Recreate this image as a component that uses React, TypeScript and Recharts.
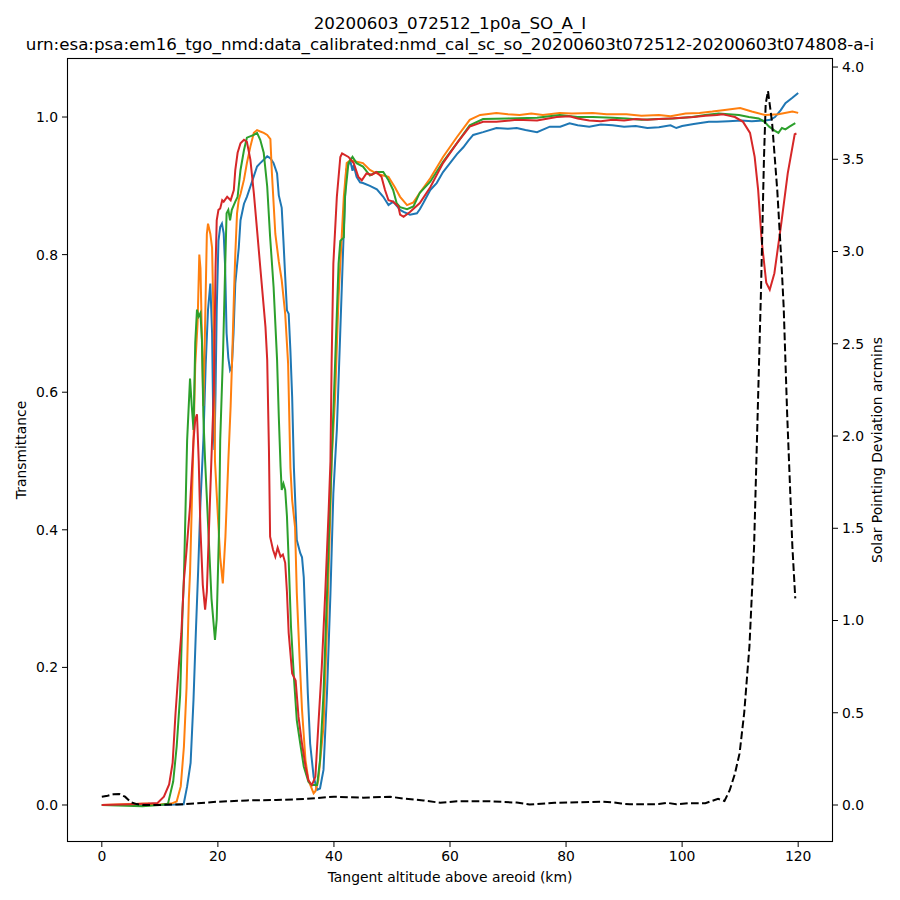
import { ComposedChart, Line, XAxis, YAxis } from "recharts"

// [altitude km, value] pairs
const blueSeries: [number, number][] = [
  [0, 0], [10, 0], [14.1, 0.001], [14.7, 0.027], [15.3, 0.061], [15.8, 0.153], [16.2, 0.25],
  [16.6, 0.34], [17.0, 0.44], [17.5, 0.53], [17.9, 0.64], [18.3, 0.72], [18.7, 0.758],
  [19.0, 0.686], [19.2, 0.56], [19.4, 0.516], [19.6, 0.6], [19.8, 0.72], [20.1, 0.82],
  [20.4, 0.84], [20.7, 0.845], [21.0, 0.831], [21.25, 0.782], [21.5, 0.686], [21.8, 0.65],
  [22.1, 0.632], [22.4, 0.637], [22.7, 0.686], [23.0, 0.758], [23.6, 0.81], [23.9, 0.85],
  [24.5, 0.874], [25.0, 0.884], [25.6, 0.899], [26.2, 0.914], [26.75, 0.928], [27.3, 0.933],
  [27.9, 0.938], [28.5, 0.943], [29.05, 0.94], [29.6, 0.933], [30.2, 0.918], [30.5, 0.886],
  [31.0, 0.868], [31.3, 0.82], [31.6, 0.768], [31.9, 0.719], [32.2, 0.714], [32.5, 0.66],
  [32.8, 0.593], [33.1, 0.49], [33.6, 0.385], [34.2, 0.366], [34.5, 0.36], [34.8, 0.331],
  [35.1, 0.259], [35.5, 0.162], [35.9, 0.089], [36.5, 0.041], [37.1, 0.022], [37.6, 0.024],
  [38.2, 0.051], [38.8, 0.162], [39.4, 0.308], [39.9, 0.453], [40.2, 0.5], [40.5, 0.545],
  [41.1, 0.69], [41.7, 0.836], [42.1, 0.923], [42.8, 0.937], [43.2, 0.922], [43.4, 0.93],
  [43.9, 0.913], [44.5, 0.905], [45.0, 0.904], [46.2, 0.9], [47.4, 0.895], [48.5, 0.884],
  [49.4, 0.872], [50.2, 0.877], [50.9, 0.87], [51.4, 0.865], [52.0, 0.862], [53.1, 0.858],
  [54.3, 0.86], [54.8, 0.866], [55.4, 0.875], [56.6, 0.894], [57.7, 0.904], [58.8, 0.92],
  [60.0, 0.933], [61.2, 0.946], [62.3, 0.956], [63.2, 0.966], [64.0, 0.974], [65.7, 0.978],
  [68, 0.984], [70, 0.983], [71.5, 0.984], [73, 0.981], [75, 0.978], [77.2, 0.986],
  [79, 0.986], [80.6, 0.991], [82, 0.988], [84, 0.986], [86, 0.989], [88, 0.988], [90, 0.986],
  [92, 0.987], [94, 0.984], [96, 0.985], [98, 0.988], [99, 0.984], [100, 0.987], [102, 0.99],
  [104.6, 0.993], [106, 0.993], [108, 0.994], [110.2, 0.995], [112, 0.994], [114.3, 0.995],
  [115.2, 0.996], [116, 1.0], [117, 1.01], [117.8, 1.02], [119, 1.028], [120, 1.035],
]

const orangeSeries: [number, number][] = [
  [0, 0], [8, 0.002], [9, 0], [12, 0.002], [12.9, 0.005], [13.6, 0.027], [14.15, 0.085],
  [14.6, 0.17], [15.0, 0.3], [15.2, 0.337], [15.8, 0.531], [16.1, 0.64], [16.5, 0.7],
  [16.8, 0.8], [17.0, 0.78], [17.25, 0.68], [17.5, 0.58], [17.8, 0.7], [18.1, 0.83],
  [18.3, 0.845], [18.7, 0.83], [19.0, 0.81], [19.3, 0.686], [19.5, 0.5], [20.0, 0.42],
  [20.4, 0.36], [20.85, 0.322], [21.3, 0.39], [21.8, 0.5], [22.2, 0.58], [22.5, 0.66],
  [22.8, 0.75], [23.0, 0.8], [23.3, 0.86], [23.6, 0.88], [23.9, 0.888], [24.5, 0.909],
  [25.0, 0.933], [25.6, 0.957], [26.2, 0.977], [26.75, 0.981], [27.3, 0.979], [27.9, 0.977],
  [28.5, 0.974], [29.05, 0.968], [29.3, 0.92], [29.9, 0.83], [30.5, 0.79], [31.0, 0.763],
  [31.6, 0.714], [32.1, 0.642], [32.5, 0.49], [32.8, 0.443], [33.3, 0.404], [33.6, 0.308],
  [34.1, 0.21], [34.5, 0.138], [35.1, 0.065], [35.6, 0.036], [36.5, 0.017], [36.8, 0.02],
  [37.3, 0.036], [38.2, 0.114], [38.8, 0.259], [39.4, 0.43], [39.6, 0.5], [40.2, 0.593],
  [40.8, 0.739], [41.4, 0.836], [41.7, 0.884], [42.2, 0.933], [42.8, 0.937], [43.9, 0.935],
  [45.0, 0.933], [46.2, 0.923], [46.9, 0.92], [48.0, 0.916], [49.4, 0.913], [50.5, 0.898],
  [51.4, 0.884], [52.6, 0.872], [53.7, 0.876], [54.8, 0.89], [56.6, 0.911], [58.8, 0.942],
  [61.2, 0.971], [63.4, 0.996], [65.2, 1.003], [68, 1.006], [70, 1.004], [72, 1.003],
  [74, 1.005], [76, 1.003], [78.9, 1.006], [81, 1.005], [84.6, 1.006], [87, 1.004],
  [90.4, 1.004], [93, 1.002], [96, 1.003], [98, 1.001], [100.6, 1.005], [103, 1.006],
  [105.2, 1.008], [107, 1.01], [110, 1.013], [112, 1.008], [114.3, 1.003], [116.6, 1.004],
  [119, 1.008], [120, 1.006],
]

const greenSeries: [number, number][] = [
  [0, 0], [7, -0.002], [10, 0], [11.4, 0.002], [12.3, 0.034], [12.9, 0.085], [13.5, 0.16],
  [13.9, 0.28], [14.15, 0.33], [14.7, 0.53], [15.2, 0.62], [15.5, 0.58], [15.8, 0.545],
  [16.1, 0.672], [16.4, 0.72], [16.7, 0.71], [17.0, 0.715], [17.25, 0.676], [17.5, 0.565],
  [17.8, 0.5], [18.3, 0.41], [18.9, 0.3], [19.5, 0.24], [19.8, 0.27], [20.2, 0.4],
  [20.4, 0.53], [20.9, 0.66], [21.25, 0.78], [21.5, 0.86], [21.8, 0.865], [22.1, 0.85],
  [22.4, 0.865], [23.0, 0.877], [23.4, 0.884], [23.9, 0.923], [24.5, 0.952], [25.0, 0.97],
  [26.2, 0.974], [26.75, 0.977], [27.3, 0.967], [27.9, 0.948], [28.5, 0.899], [29.0, 0.826],
  [29.6, 0.753], [30.2, 0.647], [30.5, 0.564], [30.8, 0.492], [31.0, 0.458], [31.3, 0.467],
  [31.6, 0.458], [31.9, 0.42], [32.2, 0.356], [32.6, 0.259], [33.1, 0.186], [33.6, 0.123],
  [34.2, 0.089], [34.8, 0.056], [35.6, 0.034], [36.2, 0.029], [37.1, 0.029], [37.6, 0.065],
  [38.2, 0.162], [38.8, 0.308], [39.4, 0.453], [39.6, 0.5], [40.2, 0.642], [40.8, 0.787],
  [41.1, 0.82], [41.7, 0.825], [41.9, 0.884], [42.5, 0.933], [43.2, 0.942], [43.9, 0.933],
  [45.0, 0.928], [46.2, 0.915], [47.3, 0.92], [48.5, 0.92], [49.4, 0.908], [50.2, 0.894],
  [50.8, 0.875], [51.4, 0.869], [52.6, 0.866], [53.7, 0.87], [54.8, 0.89], [56.6, 0.906],
  [58.8, 0.935], [61.2, 0.962], [63.4, 0.988], [65.7, 0.997], [70, 0.998], [75, 0.999],
  [78.9, 1.003], [82, 1.0], [84.6, 1.0], [88, 0.999], [90.4, 0.998], [93, 0.996],
  [96, 0.997], [98.5, 0.998], [101.7, 1.0], [104, 1.003], [106.3, 1.005], [108, 1.004],
  [109.8, 1.003], [111.5, 1.0], [113.2, 0.998], [114.2, 0.993], [115, 0.986], [116, 0.98],
  [116.6, 0.977], [117.2, 0.984], [117.8, 0.982], [118.5, 0.986], [119.5, 0.991],
]

const redSeries: [number, number][] = [
  [0, 0], [5, 0.001], [8, 0.002], [9.6, 0.003], [10.7, 0.012], [11.6, 0.03], [12.2, 0.061],
  [12.7, 0.133], [13.3, 0.206], [13.7, 0.249], [14.15, 0.327], [14.6, 0.37], [15.2, 0.434],
  [15.8, 0.53], [16.1, 0.56], [16.4, 0.568], [16.7, 0.5], [17.0, 0.4], [17.4, 0.32],
  [17.8, 0.284], [18.1, 0.31], [18.4, 0.385], [19.0, 0.53], [19.3, 0.6], [19.6, 0.78],
  [19.8, 0.85], [20.1, 0.865], [20.4, 0.867], [20.75, 0.879], [21.0, 0.877], [21.6, 0.884],
  [22.2, 0.879], [22.75, 0.894], [23.0, 0.923], [23.4, 0.948], [23.9, 0.962], [24.5, 0.967],
  [25.0, 0.964], [25.6, 0.938], [26.2, 0.889], [26.75, 0.836], [27.3, 0.782], [27.9, 0.724],
  [28.2, 0.695], [28.5, 0.647], [28.8, 0.516], [29.0, 0.39], [29.5, 0.371], [29.9, 0.361],
  [30.3, 0.374], [30.8, 0.361], [31.2, 0.364], [31.6, 0.352], [31.9, 0.31], [32.2, 0.25],
  [32.8, 0.191], [33.4, 0.181], [33.9, 0.128], [34.5, 0.089], [35.1, 0.056], [35.6, 0.036],
  [36.2, 0.029], [36.8, 0.041], [37.3, 0.114], [37.9, 0.2], [38.5, 0.308], [39.1, 0.43],
  [39.4, 0.5], [39.6, 0.642], [39.9, 0.787], [40.5, 0.884], [41.1, 0.942], [41.4, 0.947],
  [42.5, 0.942], [43.4, 0.933], [44.2, 0.913], [44.8, 0.908], [45.6, 0.918], [46.5, 0.916],
  [47.3, 0.92], [48.2, 0.913], [48.8, 0.894], [49.4, 0.879], [50.2, 0.877], [51.1, 0.87],
  [51.4, 0.858], [52.0, 0.855], [53.1, 0.862], [54.8, 0.875], [56.6, 0.898], [58.8, 0.933],
  [61.2, 0.962], [63.4, 0.986], [65.7, 0.993], [68, 0.993], [71.5, 0.996], [75, 0.995],
  [78.4, 1.0], [80.6, 1.001], [82, 0.998], [84, 0.995], [86, 0.994], [88, 0.996],
  [90, 0.995], [92, 0.997], [94, 0.996], [96, 0.997], [98, 0.998], [100, 0.999], [102, 1.0],
  [104, 1.002], [106, 1.003], [107, 1.004], [108, 1.002], [109.1, 1.0], [110.5, 0.993],
  [111.7, 0.977], [112.5, 0.942], [113.1, 0.894], [113.7, 0.821], [114.5, 0.759],
  [115.1, 0.749], [115.9, 0.773], [117.1, 0.846], [118.2, 0.918], [119.4, 0.975],
  [119.7, 0.976],
]

// solar pointing deviation (arcmins), right axis
const pointingSeries: [number, number][] = [
  [0, 0.045], [1, 0.05], [2, 0.058], [3, 0.06], [4, 0.045], [5, 0.015], [6, 0.005], [7, 0],
  [10, 0], [13, 0.003], [16, 0.008], [20, 0.018], [25, 0.025], [30, 0.027], [35, 0.033],
  [40, 0.045], [45, 0.04], [49.7, 0.045], [52, 0.035], [55.4, 0.025], [58.3, 0.012],
  [61.2, 0.02], [66.9, 0.02], [71.5, 0.013], [73.7, 0.003], [78, 0.012], [82, 0.015],
  [86, 0.018], [88, 0.015], [89.5, 0.008], [91, 0.004], [94, 0.004], [96, 0.005],
  [97.4, 0.012], [99, 0.004], [101, 0.01], [104, 0.01], [106.2, 0.033], [107.3, 0.022],
  [108.2, 0.08], [109.1, 0.17], [109.9, 0.28], [110.7, 0.5], [111.6, 0.86], [112.4, 1.4],
  [113.0, 2.1], [113.6, 2.8], [114.1, 3.5], [114.4, 3.8], [114.8, 3.87], [115.5, 3.7],
  [116.4, 3.33], [117.1, 2.95], [117.5, 2.7], [118.1, 2.12], [119.0, 1.4], [119.5, 1.12],
]

const xTicks = [0, 20, 40, 60, 80, 100, 120]
const leftTicks = [0, 0.2, 0.4, 0.6, 0.8, 1.0]
const rightTicks = [0, 0.5, 1.0, 1.5, 2.0, 2.5, 3.0, 3.5, 4.0]

const titleLines = [
  "20200603_072512_1p0a_SO_A_I",
  "urn:esa:psa:em16_tgo_nmd:data_calibrated:nmd_cal_sc_so_20200603t072512-20200603t074808-a-i",
]

const toPoints = (s: [number, number][]) => s.map(([x, y]) => ({ x, y }))

const FONT = "DejaVu Sans, sans-serif"
const tickStyle = { fontSize: 13.9, fill: "#000", fontFamily: FONT }

export default function App() {
  return (
    <div style={{ position: "absolute", left: 0, top: 0, width: 900, height: 900, background: "#fff" }}>
      <ComposedChart width={900} height={900} margin={{ top: 58, right: 0, bottom: 0, left: 0 }}>
        <XAxis
          dataKey="x"
          type="number"
          domain={[-6, 126]}
          ticks={xTicks}
          allowDataOverflow
          height={58}
          axisLine={false}
          tickLine={{ stroke: "#000" }}
          tickSize={5}
          tickMargin={4}
          tick={tickStyle}
        />
        <YAxis
          yAxisId="t"
          dataKey="y"
          type="number"
          domain={[-0.0538, 1.0858]}
          ticks={leftTicks}
          allowDataOverflow
          width={67}
          axisLine={false}
          tickLine={{ stroke: "#000" }}
          tickSize={5}
          tickMargin={4}
          tick={tickStyle}
          tickFormatter={(v) => v.toFixed(1)}
        />
        <YAxis
          yAxisId="d"
          orientation="right"
          dataKey="y"
          type="number"
          domain={[-0.2005, 4.049]}
          ticks={rightTicks}
          allowDataOverflow
          width={67}
          axisLine={false}
          tickLine={{ stroke: "#000" }}
          tickSize={5}
          tickMargin={4}
          tick={tickStyle}
          tickFormatter={(v) => v.toFixed(1)}
        />
        <Line yAxisId="t" data={toPoints(blueSeries)} dataKey="y" stroke="#1f77b4" strokeWidth={2} dot={false} isAnimationActive={false} />
        <Line yAxisId="t" data={toPoints(orangeSeries)} dataKey="y" stroke="#ff7f0e" strokeWidth={2} dot={false} isAnimationActive={false} />
        <Line yAxisId="t" data={toPoints(greenSeries)} dataKey="y" stroke="#2ca02c" strokeWidth={2} dot={false} isAnimationActive={false} />
        <Line yAxisId="t" data={toPoints(redSeries)} dataKey="y" stroke="#d62728" strokeWidth={2} dot={false} isAnimationActive={false} />
        <Line
          yAxisId="d"
          data={toPoints(pointingSeries)}
          dataKey="y"
          stroke="#000"
          strokeWidth={2}
          strokeDasharray="7.7 3.3"
          dot={false}
          isAnimationActive={false}
        />
      </ComposedChart>
      <svg
        width={900}
        height={900}
        style={{ position: "absolute", left: 0, top: 0, pointerEvents: "none" }}
        fontFamily={FONT}
      >
        <rect x={67.5} y={58.5} width={765} height={783} fill="none" stroke="#000" strokeWidth={1.1} />
        <text x={450} y={29} textAnchor="middle" fontSize={16.7}>{titleLines[0]}</text>
        <text x={450} y={50} textAnchor="middle" fontSize={16.7}>{titleLines[1]}</text>
        <text x={450} y={882} textAnchor="middle" fontSize={13.9}>Tangent altitude above areoid (km)</text>
        <text x={21} y={450} textAnchor="middle" dominantBaseline="central" fontSize={13.9} transform="rotate(-90 21 450)">
          Transmittance
        </text>
        <text x={877} y={450} textAnchor="middle" dominantBaseline="central" fontSize={13.9} transform="rotate(-90 877 450)">
          Solar Pointing Deviation arcmins
        </text>
      </svg>
    </div>
  )
}
